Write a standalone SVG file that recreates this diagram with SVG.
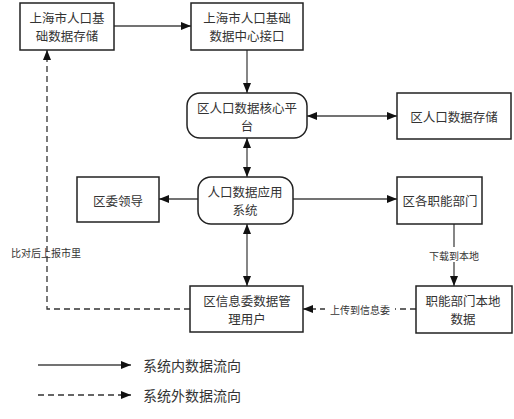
<svg xmlns="http://www.w3.org/2000/svg" width="514" height="419" viewBox="0 0 514 419">
<defs>
<marker id="ah" viewBox="0 0 10 8" refX="10" refY="4" markerWidth="10" markerHeight="8" markerUnits="userSpaceOnUse" orient="auto-start-reverse">
<path d="M0,0 L10,4 L0,8 Z" fill="#111"/>
</marker>
</defs>
<style>
.box{fill:#fff;stroke:#222;stroke-width:1.5}
.t{font-family:"Noto Sans CJK SC","Noto Sans CJK JP",sans-serif;font-size:12.5px;fill:#333;text-anchor:middle;dominant-baseline:central}
.s{font-family:"Noto Sans CJK SC","Noto Sans CJK JP",sans-serif;font-size:10px;fill:#333;text-anchor:middle;dominant-baseline:central}
.lg{font-family:"Noto Sans CJK SC","Noto Sans CJK JP",sans-serif;font-size:14px;fill:#333;dominant-baseline:central}
.c{fill:none;stroke:#444;stroke-width:1.3}
.d{fill:none;stroke:#333;stroke-width:1.3;stroke-dasharray:6 4}
</style>
<rect width="514" height="419" fill="#fff"/>
<g id="connectors">
<path class="c" d="M114,26 H191" marker-end="url(#ah)"/>
<path class="c" d="M247,50 V93" marker-end="url(#ah)"/>
<path class="c" d="M307,116 H397" marker-start="url(#ah)" marker-end="url(#ah)"/>
<path class="c" d="M247,138 V177" marker-start="url(#ah)" marker-end="url(#ah)"/>
<path class="c" d="M198,199 H159" marker-end="url(#ah)"/>
<path class="c" d="M293,199 H397" marker-end="url(#ah)"/>
<path class="c" d="M247,224 V286" marker-start="url(#ah)" marker-end="url(#ah)"/>
<path class="c" d="M454,224 V286" marker-end="url(#ah)"/>
<rect x="426" y="247" width="56" height="15" fill="#fff"/>
<text class="s" x="454" y="255">下载到本地</text>
<path class="d" d="M416,309 H303" marker-end="url(#ah)"/>
<rect x="325" y="302" width="70" height="15" fill="#fff"/>
<text class="s" x="360" y="309">上传到信息委</text>
<path class="d" d="M190,309 H47 V50" marker-end="url(#ah)"/>
<text class="s" x="46" y="252">比对后上报市里</text>
</g>
<g id="n1">
<rect class="box" x="20" y="3" width="94" height="47"/>
<text class="t" x="67" y="17">上海市人口基</text>
<text class="t" x="67" y="35">础数据存储</text>
</g>
<g id="n2">
<rect class="box" x="191" y="3" width="112" height="47"/>
<text class="t" x="247" y="17">上海市人口基础</text>
<text class="t" x="247" y="35">数据中心接口</text>
</g>
<g id="n3">
<rect class="box" x="187" y="93" width="120" height="45" rx="13"/>
<text class="t" x="247" y="107">区人口数据核心平</text>
<text class="t" x="247" y="125">台</text>
</g>
<g id="n4">
<rect class="box" x="397" y="93" width="114" height="46"/>
<text class="t" x="454" y="116">区人口数据存储</text>
</g>
<g id="n5">
<rect class="box" x="77" y="177" width="82" height="45"/>
<text class="t" x="118" y="200">区委领导</text>
</g>
<g id="n6">
<rect class="box" x="198" y="177" width="95" height="47" rx="13"/>
<text class="t" x="245" y="191">人口数据应用</text>
<text class="t" x="245" y="209">系统</text>
</g>
<g id="n7">
<rect class="box" x="397" y="177" width="85" height="47"/>
<text class="t" x="440" y="200">区各职能部门</text>
</g>
<g id="n8">
<rect class="box" x="190" y="286" width="113" height="46"/>
<text class="t" x="247" y="300">区信息委数据管</text>
<text class="t" x="247" y="318">理用户</text>
</g>
<g id="n9">
<rect class="box" x="416" y="286" width="96" height="47"/>
<text class="t" x="463" y="300">职能部门本地</text>
<text class="t" x="463" y="318">数据</text>
</g>
<g id="legend">
<path class="c" d="M38,365 H131" marker-end="url(#ah)"/>
<text class="lg" x="143" y="365">系统内数据流向</text>
<path class="d" d="M38,395 H131" marker-end="url(#ah)"/>
<text class="lg" x="143" y="395">系统外数据流向</text>
</g>
</svg>
